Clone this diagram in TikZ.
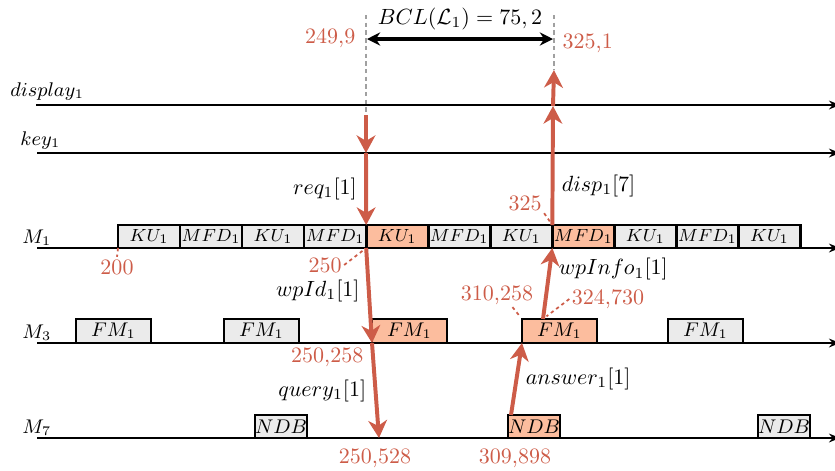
\documentclass[tikz,border=0pt]{standalone}
\usepackage{amsmath,amssymb}
\usetikzlibrary{positioning,arrows.meta,calc}
\definecolor{flowred}{RGB}{205,92,72}
\definecolor{hitfill}{RGB}{252,189,158}
\definecolor{idlefill}{RGB}{235,235,235}
\definecolor{guidegray}{RGB}{160,160,160}

\begin{document}
\begin{tikzpicture}[
    x=0.4545pt,
    y=-0.4545pt,
    lane/.style={
        -{Stealth[length=5pt,width=4pt]},
        thick
    },
    lanename/.style={
        anchor=base west,
        inner sep=0pt,
        font=\small
    },
    slot/.style={
        draw,
        line width=1.2pt,
        fill=idlefill,
        outer sep=0pt,
        inner sep=0pt,
        minimum width=28.2pt,
        minimum height=10.45pt,
        anchor=south west,
        font=\footnotesize
    },
    fmslot/.style={
        slot,
        minimum width=34.1pt,
        minimum height=10.9pt,
        font=\small
    },
    ndbslot/.style={
        slot,
        minimum width=22.7pt,
        font=\small
    },
    hit/.style={
        fill=hitfill
    },
    flow/.style={
        -{Stealth[length=8pt,width=8.5pt,inset=2.5pt]},
        line width=1.8pt,
        flowred
    },
    msg/.style={
        text=black
    },
    stamp/.style={
        text=flowred,
        inner sep=1pt
    },
    tick/.style={
        flowred,
        line width=0.8pt,
        dash pattern=on 1.5pt off 1.5pt
    },
    guide/.style={
        guidegray,
        line width=0.9pt,
        dash pattern=on 2pt off 1.5pt
    }
]
    \useasboundingbox (0,0) rectangle (835,470);

    % lanes
    \node[lanename] (lDisp) at (10,96) {$display_1$};
    \node[lanename] (lKey) at (20,145) {$key_1$};
    \node[lanename] (lM1) at (22,243) {$M_1$};
    \node[lanename] (lM3) at (22,338) {$M_3$};
    \node[lanename] (lM7) at (22,433) {$M_7$};

    \draw[lane] (36,105) -- (840,105);
    \draw[lane] (37,153) -- (840,153);
    \draw[lane] (37,248) -- (840,248);
    \draw[lane] (37,343) -- (840,343);
    \draw[lane] (37,438) -- (840,438);

    % M_1 slots
    \node[slot] (b1) at (118,248) {$KU_1$};
    \node[slot] (b2) [right=0pt of b1] {$MFD_1$};
    \node[slot] (b3) [right=0pt of b2] {$KU_1$};
    \node[slot] (b4) [right=0pt of b3] {$MFD_1$};
    \node[slot,hit] (b5) [right=0pt of b4] {$KU_1$};
    \node[slot] (b6) [right=0pt of b5] {$MFD_1$};
    \node[slot] (b7) [right=0pt of b6] {$KU_1$};
    \node[slot,hit] (b8) [right=0pt of b7] {$MFD_1$};
    \node[slot] (b9) [right=0pt of b8] {$KU_1$};
    \node[slot] (b10) [right=0pt of b9] {$MFD_1$};
    \node[slot] (b11) [right=0pt of b10] {$KU_1$};

    % M_3 slots
    \node[fmslot] (fm1) at (76,343) {$FM_1$};
    \node[fmslot] (fm2) at (224,343) {$FM_1$};
    \node[fmslot,hit] (fm3) at (372,343) {$FM_1$};
    \node[fmslot,hit] (fm4) at (522,343) {$FM_1$};
    \node[fmslot] (fm5) at (668,343) {$FM_1$};

    % M_7 slots
    \node[ndbslot] (ndb1) at (255,438) {$NDB$};
    \node[ndbslot,hit] (ndb2) at (508,438) {$NDB$};
    \node[ndbslot] (ndb3) at (758,438) {$NDB$};

    \coordinate (reqTop) at (366,115);
    \coordinate (reqKey) at (366,153);
    \coordinate (qEnd) at (379,438);
    \coordinate (ansStart) at (511,415);
    \coordinate (infoStart) at (543,319);
    \coordinate (dispKey) at (553,106);
    \coordinate (dispTop) at (554,70);

    % guides and latency
    \draw[guide] (366,15) -- (reqTop);
    \draw[guide] (554,15) -- (dispTop);

    \coordinate (bclL) at (367,39);
    \coordinate (bclR) at (553,39);
    \draw[{Stealth[length=6pt,width=6pt]}-{Stealth[length=6pt,width=6pt]},line width=1.5pt]
    (bclL) -- (bclR)
        node[midway,above] {$BCL(\mathcal{L}_1) = 75,2$};

    % message flow
    \draw[flow] (reqTop) -- (reqKey);
    \draw[flow] (reqKey) -- (b5.north west)
        node[msg,midway,left] {$req_1[1]$};

    \draw[flow] (b5.south west) -- (fm3.south west)
        node[msg,pos=0.45,left] {$wpId_1[1]$};

    \draw[flow] (fm3.south west) -- (qEnd)
        node[msg,midway,left] {$query_1[1]$};

    \draw[flow] (ansStart) -- (fm4.south west)
        node[msg,midway,right] {$answer_1[1]$};

    \draw[flow] (infoStart) -- (b8.south west)
        node[msg,pos=0.7,right] {$wpInfo_1[1]$};

    \draw[flow] (b8.north west) -- (dispKey)
        node[msg,pos=0.33,right] {$disp_1[7]$};
    \draw[flow] (dispKey) -- (dispTop);

    % timestamps
    \node[stamp,anchor=east] (tStart) at (358,38) {249,9};
    \node[stamp,anchor=west] (tEnd) at (560,43) {325,1};

    \node[stamp] (t325) at (525,203) {325};
    \draw[tick,shorten >=2pt] (t325.south east) -- (b8.north west);

    \node[stamp] (t200) at (117,267) {200};
    \draw[tick] (b1.south west) -- (t200.north);

    \node[stamp] (t250) at (325,265) {250};
    \draw[tick,shorten >=1pt] (t250.east) -- (b5.south west);

    \node[stamp,anchor=east] (t250b) at (366,357) {250,258};

    \node[stamp] (t310) at (497,295) {310,258};
    \draw[tick,shorten >=1pt] ($(t310.south)!0.4!(t310.south east)$) -- (fm4.north west);

    \node[stamp] (t324) at (608,299) {324,730};
    \draw[tick,shorten >=2pt] (t324.west) -- (infoStart);

    \node[stamp] (t250c) at (375,458) {250,528};
    \node[stamp] (t309) at (515,458) {309,898};

\end{tikzpicture}
\end{document}
